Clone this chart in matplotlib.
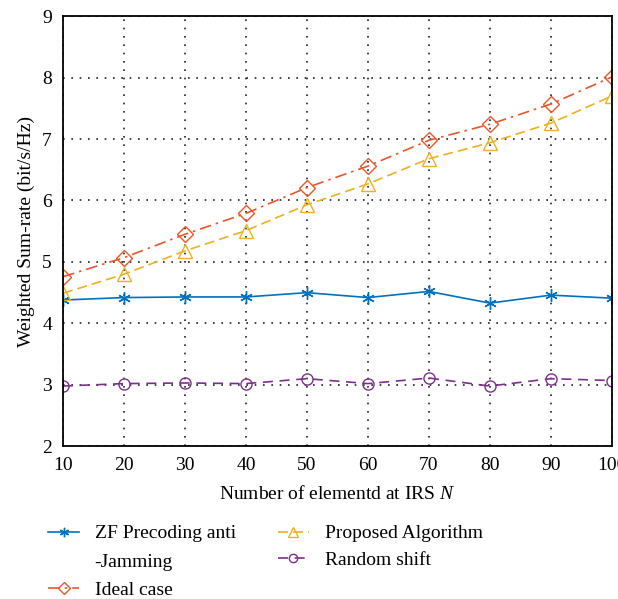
import matplotlib.pyplot as plt
from matplotlib.lines import Line2D

N = [10, 20, 30, 40, 50, 60, 70, 80, 90, 100]
zf = [4.38, 4.42, 4.43, 4.43, 4.50, 4.42, 4.52, 4.33, 4.46, 4.41]
ideal = [4.76, 5.07, 5.45, 5.79, 6.21, 6.56, 6.98, 7.24, 7.57, 8.01]
proposed = [4.49, 4.80, 5.18, 5.51, 5.93, 6.27, 6.68, 6.94, 7.26, 7.70]
rnd = [2.98, 3.02, 3.03, 3.02, 3.10, 3.02, 3.11, 2.98, 3.10, 3.07]

plt.rcParams['font.family'] = ['Liberation Serif', 'DejaVu Serif']
plt.rcParams['mathtext.fontset'] = 'custom'
plt.rcParams['mathtext.it'] = 'Liberation Serif:italic'

fig = plt.figure(figsize=(6.18, 5.99), dpi=100)
ax = fig.add_axes([0.102, 0.255, 0.888, 0.718])

l1, = ax.plot(N, zf, color='#0072BD', ls='-', marker=(6, 2, 0), ms=9, mfc='none', lw=1.2,
              label='ZF Precoding anti')
l2, = ax.plot(N, ideal, color='#E8572A', marker='D', ms=8, mfc='none', lw=1.2,
              ls=(0, (7, 3, 1.5, 3)), label='Ideal case')
l3, = ax.plot(N, proposed, color='#EDB120', marker='^', ms=10, mfc='none', lw=1.2,
              ls=(0, (6, 3)), label='Proposed Algorithm')
l4, = ax.plot(N, rnd, color='#7E2F8E', marker='o', ms=8, mfc='none', lw=1.2,
              ls=(0, (6, 4)), label='Random shift')
# second line of the ZF label, no handle
blank = Line2D([], [], color='none', label='-Jamming')

ax.set_xlim(10, 100)
ax.set_ylim(2, 9)
ax.set_xticks(N)
ax.set_yticks(range(2, 10))
ax.tick_params(direction='in', labelsize=14, length=0, pad=8)
ax.grid(True, ls=(0, (1, 4)), color='#222222', lw=1.2)
for s in ax.spines.values():
    s.set_linewidth(1.3)
ax.set_xlabel('Number of elementd at IRS $N$', fontsize=14, labelpad=8)
ax.set_ylabel('Weighted Sum-rate (bit/s/Hz)', fontsize=14, labelpad=5)

fig.legend(handles=[l1, blank, l2], loc='upper left', bbox_to_anchor=(0.065, 0.137),
           frameon=False, fontsize=14, handlelength=1.6, markerscale=0.75,
           labelspacing=0.55, borderaxespad=0)
fig.legend(handles=[l3, l4], loc='upper left', bbox_to_anchor=(0.437, 0.137),
           frameon=False, fontsize=14, handlelength=1.6, markerscale=0.75,
           labelspacing=0.45, borderaxespad=0)

fig.savefig('out.png', dpi=100)
